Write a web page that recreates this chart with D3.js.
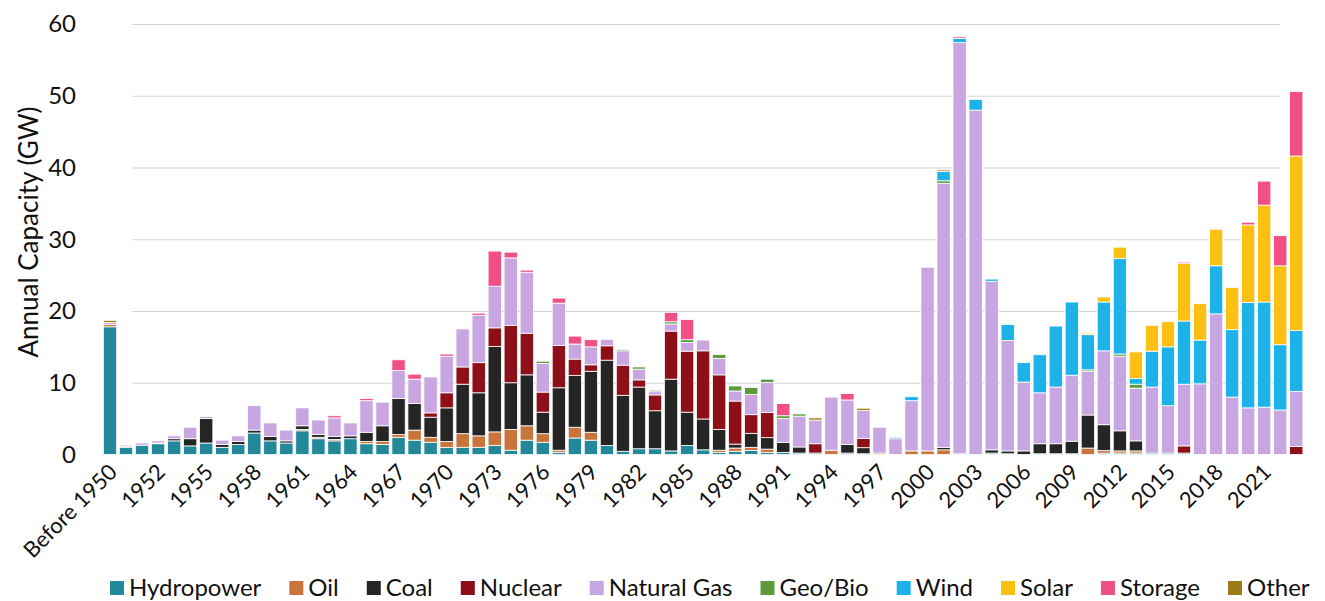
<!DOCTYPE html>
<html>
<head>
<meta charset="utf-8">
<script src="https://cdn.jsdelivr.net/npm/d3@7"></script>
<style>
  body { margin: 0; background: #fff; }
  text { font-family: Lato, "Open Sans", sans-serif; fill: #111; }
</style>
</head>
<body>
<svg id="chart" width="1325" height="601"></svg>
<script>
// Annual capacity additions by technology (GW)

var years = ["Before 1950"].concat(d3.range(1950, 2024).map(String));

var hydro   = [17.8,1.0,1.3,1.5,1.9,1.2,1.6,1.0,1.4,3.0,1.9,1.6,3.3,2.2,1.9,2.2,1.5,1.4,2.4,2.0,1.7,1.0,1.0,1.0,1.25,0.6,2.0,1.7,0.3,2.3,2.0,1.25,0.45,0.8,0.8,0.5,1.25,0.65,0.3,0.45,0.55,0.3,0.3,0.2,0.2,0,0.2,0.1,0,0,0,0,0,0.1,0,0.2,0.1,0,0.1,0.1,0.1,0,0.2,0.2,0.2,0.2,0.2,0.2,0,0,0,0,0,0,0];
var oil     = [0.3,0,0,0,0,0,0,0,0,0,0,0,0.2,0.2,0.2,0,0.3,0.4,0.4,1.4,0.7,0.8,1.9,1.6,1.9,2.9,2.0,1.2,0.3,1.5,1.1,0,0,0,0,0,0,0,0.3,0.45,0.45,0.45,0,0,0,0.6,0,0,0.2,0,0.5,0.5,0.65,0,0,0,0,0,0,0,0,0.9,0.35,0.3,0.3,0,0,0,0,0,0,0,0,0,0];
var coal    = [0,0.1,0,0.1,0.3,1.0,3.4,0.4,0.4,0.4,0.6,0.3,0.5,0.4,0.4,0.4,1.3,2.2,5.0,3.7,2.8,4.7,6.9,6.0,11.9,6.5,7.1,3.0,8.7,7.2,8.5,11.9,7.8,8.6,5.3,10.0,4.65,4.3,2.9,0.55,1.95,1.6,1.4,0.85,0,0,1.2,0.85,0,0,0,0,0.35,0,0,0.45,0.4,0.5,1.4,1.4,1.75,4.6,3.6,2.8,1.4,0,0,0,0,0,0,0,0,0,0];
var nuclear = [0,0,0,0,0,0,0,0,0,0,0,0,0,0,0,0,0,0,0,0,0.6,2.1,2.4,4.2,2.6,8.0,5.8,2.8,5.9,2.3,0.9,2.0,4.2,1.0,2.2,6.7,8.5,9.5,7.6,6.0,2.6,3.5,0,0,1.3,0,0,1.3,0,0,0,0,0,0,0,0,0,0,0,0,0,0,0,0,0,0,0,1.0,0,0,0,0,0,0,1.1];
var gas     = [0.3,0.2,0.3,0.3,0.4,1.6,0.3,0.6,0.8,3.4,1.9,1.5,2.5,2.0,2.6,1.8,4.4,3.3,3.9,3.4,5.0,5.1,5.3,6.6,5.8,9.4,8.5,4.0,5.9,2.1,2.5,0.9,2.0,1.5,0.45,1.0,1.2,1.5,2.3,1.4,2.8,4.2,3.3,4.3,3.3,7.4,6.2,3.9,3.6,2.2,7.0,25.6,36.8,57.3,48.0,23.5,15.4,9.6,7.1,7.9,9.2,6.1,10.3,10.4,7.35,9.2,6.6,8.6,9.85,19.6,8.0,6.5,6.6,6.2,7.7];
var geobio  = [0,0,0,0,0,0,0,0,0,0,0,0,0,0,0,0,0,0,0,0,0,0,0,0,0,0,0,0.3,0,0,0,0,0.2,0.3,0.2,0.3,0.4,0,0.55,0.7,1.0,0.45,0.4,0.3,0,0,0,0,0,0,0,0,0.35,0,0,0,0,0,0,0,0,0.2,0,0.3,0.55,0,0,0,0,0,0,0,0,0,0];
var wind    = [0,0,0,0,0,0,0,0,0,0,0,0,0,0,0,0,0,0,0,0,0,0,0,0,0,0,0,0,0,0,0,0,0,0,0,0,0,0,0,0,0,0,0,0,0,0,0,0,0,0.2,0.55,0,1.3,0.6,1.5,0.3,2.2,2.7,5.3,8.5,10.2,4.9,6.8,13.3,0.8,5.0,8.2,8.8,6.1,6.7,9.4,14.7,14.65,9.1,8.5];
var solar   = [0,0,0,0,0,0,0,0,0,0,0,0,0,0,0,0,0,0,0,0,0,0,0,0,0,0,0,0,0,0,0,0,0,0,0,0,0,0,0,0,0,0,0,0,0,0,0,0,0,0,0,0,0,0,0,0,0,0,0,0,0,0.2,0.7,1.6,3.7,3.6,3.5,8.0,5.1,5.1,5.9,10.8,13.5,11.0,24.3];
var storage = [0,0,0,0,0,0,0,0,0,0,0,0,0,0,0.3,0,0.3,0,1.5,0.7,0,0.3,0,0.3,4.9,0.8,0.3,0,0.7,1.1,1.0,0,0,0,0,1.3,2.8,0,0,0,0,0,1.7,0,0,0,0.9,0,0,0,0,0,0,0.2,0,0,0,0,0,0,0,0,0,0,0,0,0,0.2,0,0.1,0,0.37,3.35,4.2,9.0];
var other   = [0.3,0,0,0,0,0,0,0,0,0,0,0,0,0,0,0,0,0,0,0,0,0,0,0,0,0,0,0,0,0,0,0,0,0,0,0,0,0,0,0,0,0,0,0,0.3,0,0,0.3,0,0,0,0,0.2,0,0,0,0,0,0,0,0,0,0,0,0,0,0,0,0,0,0,0,0,0,0];

var seriesNames  = ["Hydropower","Oil","Coal","Nuclear","Natural Gas","Geo/Bio","Wind","Solar","Storage","Other"];
var seriesValues = [hydro, oil, coal, nuclear, gas, geobio, wind, solar, storage, other];
var seriesColors = ["#23889a","#c8743a","#252525","#8e0f18","#c7a6e2","#5c9a3c","#1db2e8","#fbc012","#f24f87","#9c7a16"];
var yTicks = [0, 10, 20, 30, 40, 50, 60];

var svg = d3.select("#chart");

var rows = years.map(function (y, i) {
    var r = { year: y };
    seriesNames.forEach(function (s, k) { r[s] = seriesValues[k][i]; });
    return r;
});

var x = d3.scaleBand()
    .domain(years)
    .range([101.75, 1304.5])
    .paddingInner(0.17)
    .paddingOuter(0.1);

var y = d3.scaleLinear()
    .domain([0, 60])
    .range([454.5, 24]);

var color = d3.scaleOrdinal().domain(seriesNames).range(seriesColors);

// gridlines
svg.append("g")
    .selectAll("line")
    .data(yTicks.filter(function (d) { return d > 0; }))
    .enter().append("line")
    .attr("x1", 132).attr("x2", 1280)
    .attr("y1", function (d) { return y(d) + 0.5; })
    .attr("y2", function (d) { return y(d) + 0.5; })
    .attr("stroke", "#d6d6d6")
    .attr("stroke-width", 1.2);

// y tick labels
svg.append("g")
    .selectAll("text")
    .data(yTicks)
    .enter().append("text")
    .attr("x", 76)
    .attr("y", function (d) { return y(d); })
    .attr("dy", "0.35em")
    .attr("text-anchor", "end")
    .style("font-size", "24px")
    .text(function (d) { return d; });

// y title
svg.append("text")
    .attr("transform", "translate(29,232) rotate(-90)")
    .attr("text-anchor", "middle")
    .attr("dy", "0.35em")
    .style("font-size", "26px")
    .text("Annual Capacity (GW)");

// stacked bars
var stacked = d3.stack().keys(seriesNames)(rows);

svg.append("g")
    .selectAll("g")
    .data(stacked)
    .enter().append("g")
    .attr("fill", function (d) { return color(d.key); })
    .selectAll("rect")
    .data(function (d) { return d.filter(function (p) { return p[1] - p[0] > 0; }); })
    .enter().append("rect")
    .attr("x", function (d) { return x(d.data.year); })
    .attr("width", x.bandwidth())
    .attr("y", function (d) { return y(d[1]); })
    .attr("height", function (d) { return y(d[0]) - y(d[1]); })
    .attr("stroke", "#fff")
    .attr("stroke-width", 0.8);

// x tick labels, every third year
svg.append("g")
    .selectAll("text")
    .data(years.filter(function (d, i) { return i % 3 === 0; }))
    .enter().append("text")
    .attr("transform", function (d) {
        return "translate(" + (x(d) + x.bandwidth() / 2 + 3) + ",468) rotate(-45)";
    })
    .attr("text-anchor", "end")
    .attr("dy", "0.35em")
    .style("font-size", "22px")
    .text(function (d) { return d; });

// legend
var legend = svg.append("g").attr("transform", "translate(110,588)");
var lx = 0;
seriesNames.forEach(function (s) {
    var item = legend.append("g").attr("transform", "translate(" + lx + ",0)");
    item.append("rect")
        .attr("x", 0).attr("y", -7)
        .attr("width", 14).attr("height", 14)
        .attr("fill", color(s));
    var t = item.append("text")
        .attr("x", 19)
        .attr("dy", "0.35em")
        .style("font-size", "24px")
        .text(s);
    lx += 19 + t.node().getComputedTextLength() + 28;
});
</script>
</body>
</html>
